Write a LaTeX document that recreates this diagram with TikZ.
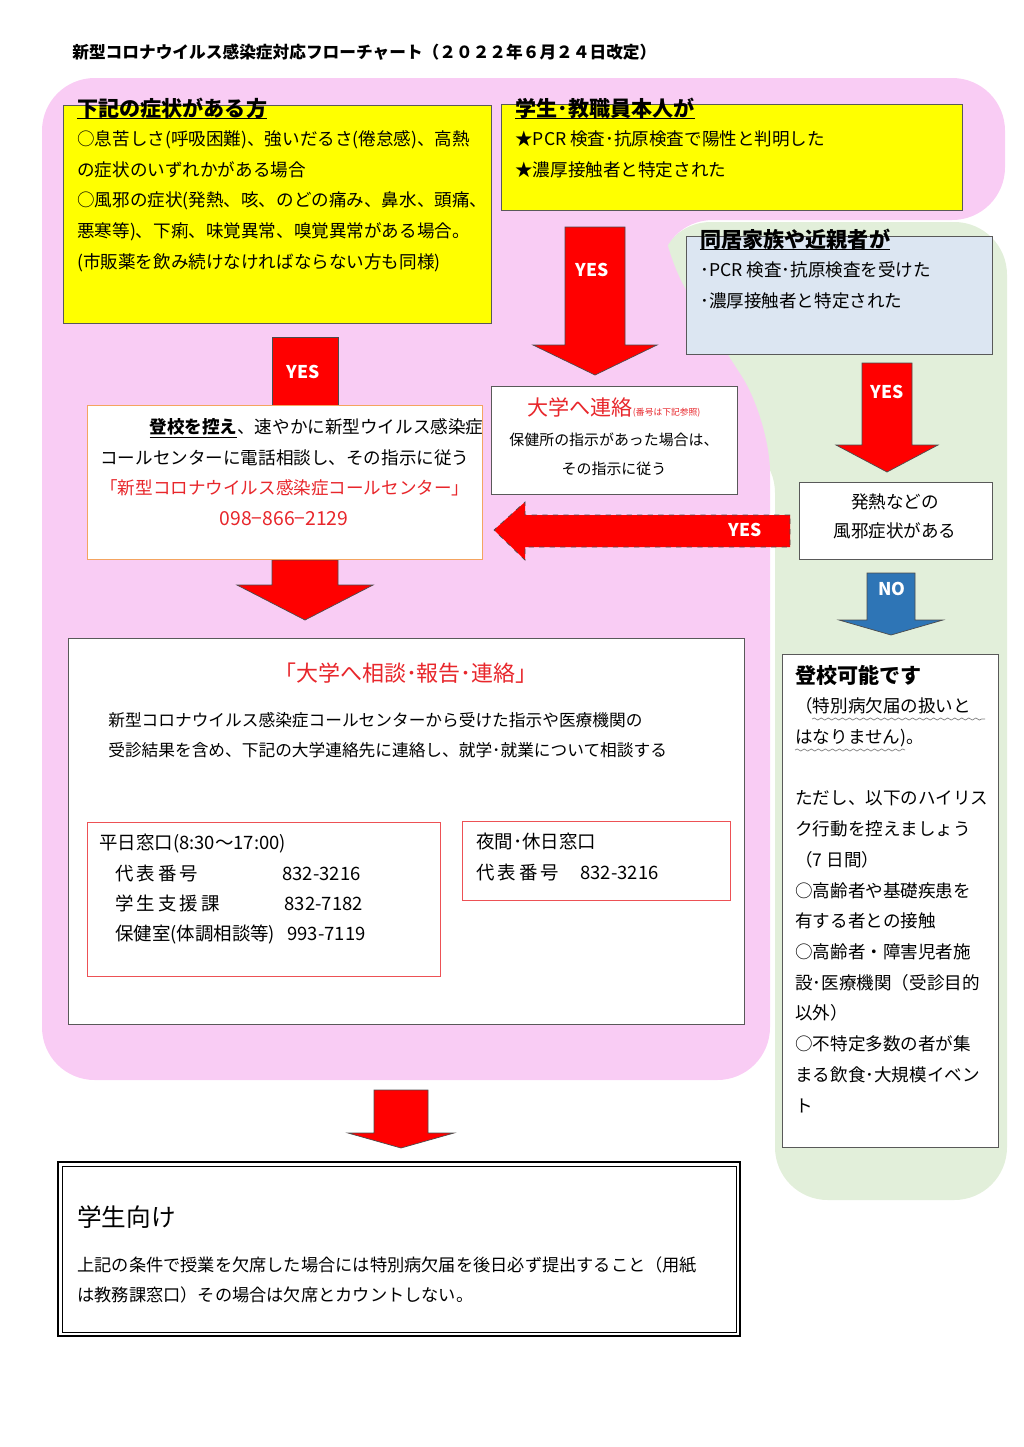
\documentclass[tikz,border=0pt]{standalone}
\usepackage{fontspec}
\setmainfont{Noto Sans CJK JP}
\usetikzlibrary{positioning, decorations.pathmorphing}
\definecolor{bgpink}{HTML}{F9CCF4}
\definecolor{bggreen}{HTML}{E2EFDA}
\definecolor{boxblue}{HTML}{DCE6F2}
\definecolor{boxyellow}{HTML}{FFFF00}
\definecolor{txtred}{HTML}{E8262B}
\definecolor{edgeorange}{HTML}{F4A460}
\definecolor{arrblue}{HTML}{2E75B6}
\tikzset{
    box/.style={draw=gray!70!black, thin},
    txt/.style={anchor=north west, inner sep=0pt, align=left, font=\fontsize{10}{17.5}\selectfont},
    ctxt/.style={anchor=north, inner sep=0pt, align=center, font=\fontsize{10}{17.5}\selectfont},
    yes/.style={text=white, font=\bfseries\fontsize{10}{12}\selectfont, inner sep=0pt}
}
% block arrow: centre x, half shaft, top, neck, half head, tip
\newcommand{\blockdown}[7][red]{%
  \draw[fill=#1, draw=black!70, line join=miter]
    (#2-#3,#4) -- (#2+#3,#4) -- (#2+#3,#5) -- (#2+#6,#5) -- (#2,#7)
    -- (#2-#6,#5) -- (#2-#3,#5) -- cycle;}
\begin{document}
\begin{tikzpicture}[x=0.02cm, y=-0.02cm]
    \useasboundingbox (0,0) rectangle (1024,1447);

    % backgrounds
    \fill[bggreen, rounded corners=30] (658,222) -- (1007,222) -- (1007,1200) -- (775,1200) -- (775,440) -- (658,440) -- cycle;
    \fill[bgpink, rounded corners=30] (42,78) -- (1005,78) -- (1005,220) -- (660,220) -- (660,250) -- (770,420) -- (770,1080) -- (42,1080) -- cycle;

    \node (title) [txt, font=\bfseries\fontsize{9.5}{12}\selectfont] at (72,44) {新型コロナウイルス感染症対応フローチャート（２０２２年６月２４日改定）};

    % arrows
    \blockdown{305}{33}{337}{410}{60}{410}
    \blockdown{595}{30}{227}{345}{62}{375}
    \blockdown{887}{25}{363}{445}{51}{472}
    \blockdown[arrblue]{891}{24}{573}{620}{52}{635}
    \blockdown{305}{33}{560}{585}{68}{620}
    \blockdown{401}{27}{1090}{1133}{53}{1148}
    \draw[fill=red, draw=black!70, dashed, line join=miter] (790,515) -- (525,515) -- (525,502) -- (494,530) -- (525,560) -- (525,547) -- (790,547) -- cycle;
    \node (yes1) [yes] at (303,372) {YES};
    \node (yes2) [yes] at (592,270) {YES};
    \node (yes3) [yes] at (887,392) {YES};
    \node (yes4) [yes] at (745,530) {YES};
    \node (no) [yes] at (892,589) {NO};

    % upper boxes
    \draw[box, fill=boxyellow] (63,105) rectangle (491,323);
    \node (symp) [txt] at (77,116) {\underline{\smash{\textbf{\large 下記の症状がある方}}}\\[-1pt]
      ○息苦しさ(呼吸困難)、強いだるさ(倦怠感)、高熱\\
      の症状のいずれかがある場合\\
      ○風邪の症状(発熱、咳、のどの痛み、鼻水、頭痛、\\
      悪寒等)、下痢、味覚異常、嗅覚異常がある場合。\\
      (市販薬を飲み続けなければならない方も同様)};
    \draw[box, fill=boxyellow] (501,104) rectangle (962,210);
    \node (self) [txt] at (515,116) {\underline{\smash{\textbf{\large 学生･教職員本人が}}}\\[-1pt]
      ★PCR 検査･抗原検査で陽性と判明した\\
      ★濃厚接触者と特定された};
    \draw[box, fill=boxblue] (686,236) rectangle (992,354);
    \node (family) [txt] at (700,247) {\underline{\smash{\textbf{\large 同居家族や近親者が}}}\\[-1pt]
      ･PCR 検査･抗原検査を受けた\\
      ･濃厚接触者と特定された};

    % middle boxes
    \draw[box, fill=white] (491,386) rectangle (737,494);
    \node (univ) [ctxt, font=\fontsize{8.5}{17}\selectfont] at (614,397) {\textcolor{txtred}{{\large 大学へ連絡}{\tiny (番号は下記参照)}}\\
      保健所の指示があった場合は、\\ その指示に従う};
    \draw[draw=edgeorange, fill=white] (87,405) rectangle (482,559);
    \node (call) [txt] at (100,418) {\hspace*{28pt}\underline{\textbf{登校を控え}}、速やかに新型ウイルス感染症\\
      コールセンターに電話相談し、その指示に従う\\
      \textcolor{txtred}{「新型コロナウイルス感染症コールセンター」}};
    \node (tel) [ctxt, text=txtred, font=\fontsize{11}{12}\selectfont] at (284,511) {098−866−2129};
    \draw[box, fill=white] (799,482) rectangle (992,559);
    \node (fever) [ctxt] at (895,493) {発熱などの\\[-1pt]風邪症状がある};

    % contact box
    \draw[box, fill=white] (68,638) rectangle (744,1024);
    \node (consult) [ctxt, text=txtred, font=\fontsize{12.5}{14}\selectfont] at (406,663) {「大学へ相談･報告･連絡」};
    \node (consulttxt) [txt, font=\fontsize{9.5}{17}\selectfont] at (108,712) {新型コロナウイルス感染症コールセンターから受けた指示や医療機関の\\
      受診結果を含め、下記の大学連絡先に連絡し、就学･就業について相談する};
    \draw[draw=txtred!80, fill=white] (87,822) rectangle (440,976);
    \node (weekday) [txt, font=\fontsize{10.5}{17.2}\selectfont] at (99,834) {平日窓口(8:30～17:00)\\
      \hspace*{9pt}代\,表\,番\,号\hspace{48pt}832-3216\\
      \hspace*{9pt}学\,生\,支\,援\,課\hspace{37pt}832-7182\\
      \hspace*{9pt}保健室(体調相談等)\hspace{7pt}993-7119};
    \draw[draw=txtred!80, fill=white] (462,821) rectangle (730,900);
    \node (night) [txt, font=\fontsize{10.5}{17.2}\selectfont] at (476,833) {夜間･休日窓口\\
      代\,表\,番\,号\hspace{12pt}832-3216};

    % right box
    \draw[box, fill=white] (782,654) rectangle (998,1147);
    \node (ok) [txt] at (795,665) {\textbf{\large 登校可能です}\\[-1pt]
      （特別病欠届の扱いと\\
      はなりません)。\\[17.5pt]
      ただし、以下のハイリス\\
      ク行動を控えましょう\\
      （7 日間）\\
      ○高齢者や基礎疾患を\\
      有する者との接触\\
      ○高齢者・障害児者施\\
      設･医療機関（受診目的\\
      以外）\\
      ○不特定多数の者が集\\
      まる飲食･大規模イベン\\
      ト};
    \draw[gray, decorate, decoration={snake, amplitude=0.6, segment length=4}] (812,719) -- (985,719);
    \draw[gray, decorate, decoration={snake, amplitude=0.6, segment length=4}] (795,750) -- (905,750);

    % students box
    \draw[thick] (58,1162) rectangle (740,1336);
    \draw (62,1166) rectangle (736,1332);
    \node (stud) [txt, font=\fontsize{14}{16}\selectfont] at (77,1205) {学生向け};
    \node (studtxt) [txt, font=\fontsize{9.8}{17.5}\selectfont] at (77,1256) {上記の条件で授業を欠席した場合には特別病欠届を後日必ず提出すること（用紙\\
      は教務課窓口）その場合は欠席とカウントしない。};
\end{tikzpicture}
\end{document}
